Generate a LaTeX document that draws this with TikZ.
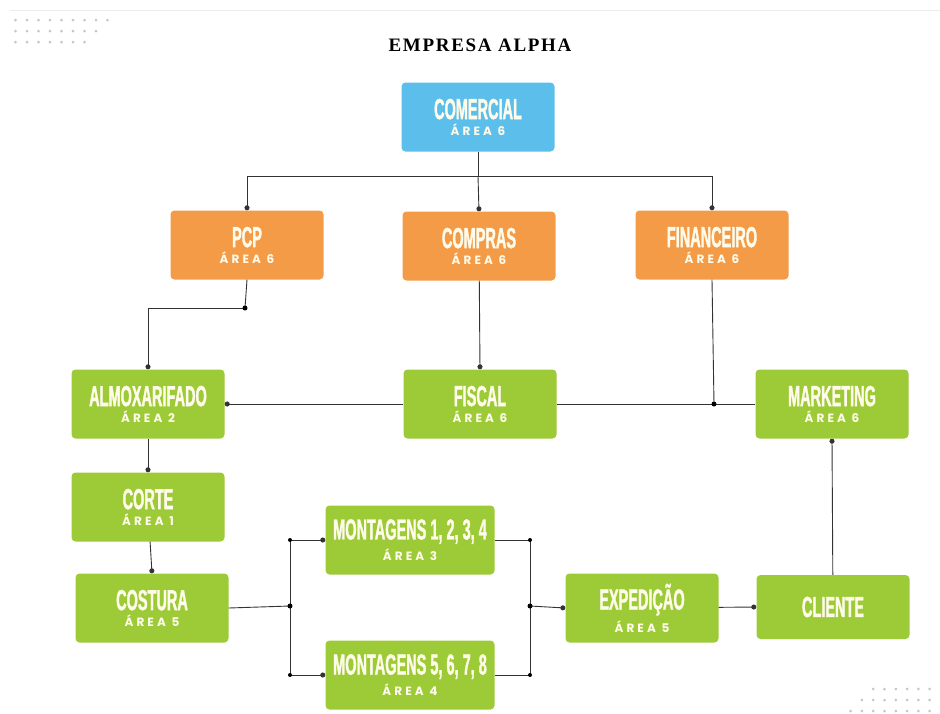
\documentclass[tikz,border=0pt]{standalone}
\usepackage{fontspec}
\setmainfont{Liberation Serif}
\newfontfamily\titlefont[LetterSpace=9]{Liberation Serif}
\newfontfamily\headfont[FakeStretch=0.5,BoldFeatures={FakeBold=1.2}]{Liberation Sans}
\newfontfamily\areafont[LetterSpace=26]{Poppins}
\usetikzlibrary{arrows.meta}
\definecolor{azul}{HTML}{5CBEEA}
\definecolor{laranja}{HTML}{F39B46}
\definecolor{verde}{HTML}{9DCB37}
\definecolor{texto}{HTML}{FFFBEA}
\newcommand{\caixatxt}[2]{{\headfont\bfseries\fontsize{29}{30}\selectfont #1}\\[4pt]{\areafont\bfseries\fontsize{12}{13}\selectfont #2}}
\tikzset{
  caixa/.style={rounded corners=4pt, minimum width=153pt, minimum height=69pt, text=texto, align=center, inner sep=0pt},
  azulbox/.style={caixa, fill=azul},
  laranjabox/.style={caixa, fill=laranja},
  verdebox/.style={caixa, fill=verde},
  liga/.style={draw=black!80, line width=0.9pt},
  ponto/.style={-{Circle[length=5pt]}},
}
\begin{document}
\begin{tikzpicture}[x=1pt,y=-1pt]
    \useasboundingbox (0,0) rectangle (940,713);
    \draw[gray!15, line width=1pt] (10,10)--(940,10);
    % pontos decorativos
    \foreach \r/\n in {0/9,1/8,2/7}
      \foreach \i in {1,...,\n}
        \fill[gray!45] ({4+11.5*\i},{20+11*\r}) circle (1.5);
    \foreach \r/\n in {0/6,1/7,2/8}
      \foreach \i in {1,...,\n}
        \fill[gray!45] ({941-11.3*\i},{689+11*\r}) circle (1.5);
    \node (titulo) at (480,45) {\titlefont\bfseries\fontsize{19}{21}\selectfont EMPRESA ALPHA};
    % caixas
    \node[azulbox] (comercial) at (478,117) {\caixatxt{COMERCIAL}{ÁREA 6}};
    \node[laranjabox] (pcp) at (247,245) {\caixatxt{PCP}{ÁREA 6}};
    \node[laranjabox] (compras) at (479,246) {\caixatxt{COMPRAS}{ÁREA 6}};
    \node[laranjabox] (financeiro) at (712,245) {\caixatxt{FINANCEIRO}{ÁREA 6}};
    \node[verdebox] (almox) at (148,404) {\caixatxt{ALMOXARIFADO}{ÁREA 2}};
    \node[verdebox] (fiscal) at (480,404) {\caixatxt{FISCAL}{ÁREA 6}};
    \node[verdebox] (marketing) at (832,404) {\caixatxt{MARKETING}{ÁREA 6}};
    \node[verdebox] (corte) at (148,507) {\caixatxt{CORTE}{ÁREA 1}};
    \node[verdebox] (costura) at (152,608) {\caixatxt{COSTURA}{ÁREA 5}};
    \node[verdebox, minimum width=169pt] (mont1) at (410,540) {\caixatxt{MONTAGENS 1, 2, 3, 4}{ÁREA 3}};
    \node[verdebox, minimum width=169pt] (mont2) at (410,675) {\caixatxt{MONTAGENS 5, 6, 7, 8}{ÁREA 4}};
    \node[verdebox] (expedicao) at (642,608) {\caixatxt{EXPEDIÇÃO}{ÁREA 5}};
    \node[verdebox, minimum height=64pt] (cliente) at (833,607) {{\headfont\bfseries\fontsize{29}{30}\selectfont CLIENTE}};
    % ligacoes
    \coordinate (topo) at (478,176);
    \coordinate (jpcp) at (245,308);
    \coordinate (jfin) at (714,404);
    \coordinate (jcos) at (290,606);
    \coordinate (jexp) at (530,606);
    \draw[liga] (comercial) -- (topo);
    \draw[liga,ponto] (topo) -| (pcp.north);
    \draw[liga,ponto] (topo) -- (compras.north);
    \draw[liga,ponto] (topo) -| (financeiro.north);
    \draw[liga] (pcp.south) -- (jpcp);
    \draw[liga,ponto] (jpcp) -| (almox.north);
    \draw[liga,ponto] (compras) -- (fiscal.north);
    \draw[liga,ponto] (fiscal) -- (almox.east);
    \draw[liga] (fiscal) -- (marketing);
    \draw[liga] (financeiro.south) -- (jfin);
    \draw[liga,ponto] (almox) -- (corte.north);
    \draw[liga,ponto] (corte) -- (costura.north);
    \draw[liga] (costura.east) -- (jcos);
    \draw[liga,ponto] (jcos) |- (mont1.west);
    \draw[liga,ponto] (jcos) |- (mont2.west);
    \draw[liga] (mont1.east) -| (jexp);
    \draw[liga] (mont2.east) -| (jexp);
    \draw[liga,ponto] (jexp) -- (expedicao.west);
    \draw[liga,ponto] (expedicao) -- (cliente.west);
    \draw[liga,ponto] (cliente) -- (marketing.south);
    \foreach \p in {jpcp,jfin,jcos,jexp}
      \fill (\p) circle (2.5);
    \foreach \p in {mont1.west,mont2.west}
      \fill (jcos |- \p) circle (2);
    \foreach \p in {mont1.east,mont2.east}
      \fill (jexp |- \p) circle (2);
\end{tikzpicture}
\end{document}
